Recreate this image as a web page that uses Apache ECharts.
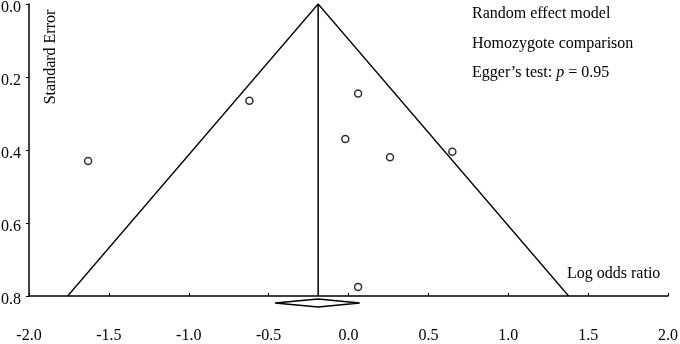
<!DOCTYPE html>
<html>
<head>
<meta charset="utf-8">
<script src="https://cdn.jsdelivr.net/npm/echarts@6/dist/echarts.min.js"></script>
<style>
  html, body { margin: 0; padding: 0; background: #fff; }
  #chart { width: 680px; height: 344px; }
</style>
</head>
<body>
<div id="chart"></div>
<script>
// study points (log odds ratio vs standard error)
const logOR = [-1.63, -0.62, 0.06, -0.02, 0.26, 0.65, 0.06];
const stdErr = [0.43, 0.265, 0.245, 0.37, 0.42, 0.405, 0.775];

// pooled estimate and its CI (diamond)
const pooled = -0.19;
const ciLow = -0.46;
const ciHigh = 0.07;
const seMax = 0.8;

const xTicks = [-2, -1.5, -1, -0.5, 0, 0.5, 1, 1.5, 2];
const yTicks = [0, 0.2, 0.4, 0.6, 0.8];

const legendLines = ["Random effect model", "Homozygote comparison"];
const eggerP = "0.95";

const font = "'Liberation Serif', 'Times New Roman', serif";
const black = "#000";

const chart = echarts.init(document.getElementById("chart"));

const funnel = [
  [pooled - 1.96 * seMax, seMax],
  [pooled, 0],
  [pooled + 1.96 * seMax, seMax],
];
const midLine = [
  [pooled, 0],
  [pooled, seMax],
];
const diamond = [
  [ciLow, 0.819],
  [pooled, 0.808],
  [ciHigh, 0.819],
  [pooled, 0.830],
  [ciLow, 0.819],
];

const option = {
  animation: false,
  backgroundColor: "#fff",
  grid: { left: 29, right: 12, top: 4, bottom: 48, outerBoundsMode: "none" },
  xAxis: {
    type: "value",
    min: xTicks[0],
    max: xTicks[xTicks.length - 1],
    interval: 0.5,
    axisLine: { onZero: false, lineStyle: { color: black, width: 1.5 } },
    axisTick: { inside: true, length: 3, lineStyle: { color: black } },
    axisLabel: {
      margin: 32,
      color: black,
      fontFamily: font,
      fontSize: 16,
      formatter: (v) => v.toFixed(1),
    },
    splitLine: { show: false },
  },
  yAxis: {
    type: "value",
    inverse: true,
    min: yTicks[0],
    max: yTicks[yTicks.length - 1],
    interval: 0.2,
    axisLine: { show: true, onZero: false, lineStyle: { color: black, width: 1.5 } },
    axisTick: { show: true, length: 3, lineStyle: { color: black } },
    axisLabel: {
      margin: 8,
      verticalAlign: "top",
      lineHeight: 8,
      color: black,
      fontFamily: font,
      fontSize: 16,
      formatter: (v) => v.toFixed(1),
    },
    splitLine: { show: false },
  },
  series: [
    {
      type: "line",
      data: funnel,
      symbol: "none",
      lineStyle: { color: black, width: 1.3 },
      silent: true,
    },
    {
      type: "line",
      data: midLine,
      symbol: "none",
      lineStyle: { color: black, width: 1.5 },
      silent: true,
    },
    {
      type: "line",
      data: diamond,
      symbol: "none",
      clip: false,
      lineStyle: { color: black, width: 1.5 },
      silent: true,
    },
    {
      type: "scatter",
      data: logOR.map((x, i) => [x, stdErr[i]]),
      symbol: "circle",
      symbolSize: 7,
      itemStyle: { color: "#fff", borderColor: black, borderWidth: 1.5 },
      z: 5,
    },
  ],
  graphic: [
    {
      type: "text",
      left: 472,
      top: 6,
      style: { text: legendLines[0], font: "16px " + font, fill: black },
    },
    {
      type: "text",
      left: 472,
      top: 36,
      style: { text: legendLines[1], font: "16px " + font, fill: black },
    },
    {
      type: "text",
      left: 472,
      top: 65,
      style: {
        text: "Egger\u2019s test: {i|p} = " + eggerP,
        font: "16px " + font,
        fill: black,
        rich: { i: { fontStyle: "italic", fontFamily: font, fontSize: 16 } },
      },
    },
    {
      type: "text",
      left: 567,
      top: 266,
      style: { text: "Log odds ratio", font: "16px " + font, fill: black },
    },
    {
      type: "text",
      x: 51,
      y: 57,
      rotation: Math.PI / 2,
      style: {
        text: "Standard Error",
        font: "16px " + font,
        fill: black,
        align: "center",
        verticalAlign: "middle",
      },
    },
  ],
};

chart.setOption(option);
</script>
</body>
</html>
